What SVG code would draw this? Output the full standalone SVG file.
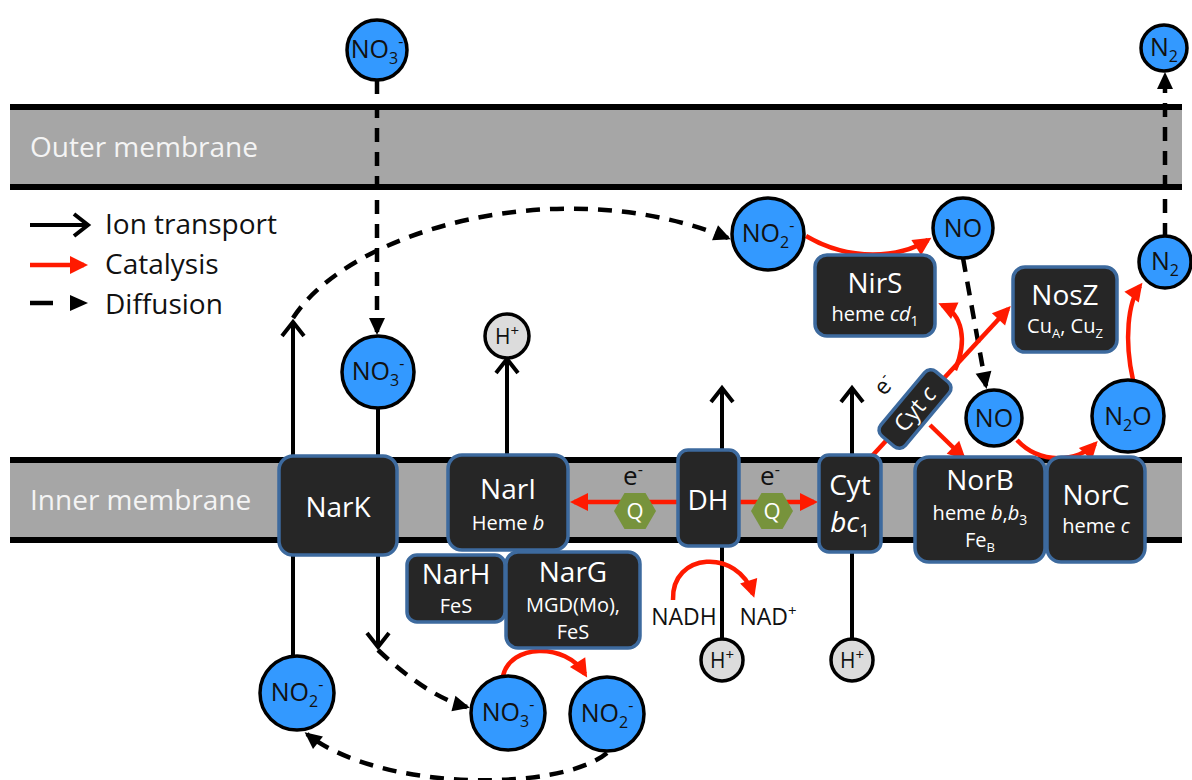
<svg xmlns="http://www.w3.org/2000/svg" width="1192" height="780" viewBox="0 0 1192 780">
  <defs>
    <style>
      .mem { fill: #a6a6a6; }
      .memline { stroke: #000; stroke-width: 6; }
      .memlabel { font-family: "Open Sans", "Liberation Sans", sans-serif; font-size: 28px; fill: #f4f4f4; }
      .legend { font-family: "Open Sans", "Liberation Sans", sans-serif; font-size: 28px; fill: #111; }
      .mol { fill: #3399ff; stroke: #000; stroke-width: 3.5; }
      .proton { fill: #dcdcdc; stroke: #000; stroke-width: 3.5; }
      .moltext { font-family: "Open Sans", "Liberation Sans", sans-serif; font-size: 25px; fill: #111; text-anchor: middle; }
      .htext { font-family: "Open Sans", "Liberation Sans", sans-serif; font-size: 21px; fill: #111; text-anchor: middle; }
      .enz { fill: #262626; stroke: #3d6a9e; stroke-width: 3.5; }
      .ename { font-family: "Open Sans", "Liberation Sans", sans-serif; font-size: 28px; fill: #fff; text-anchor: middle; }
      .esub { font-family: "Open Sans", "Liberation Sans", sans-serif; font-size: 20px; fill: #fff; text-anchor: middle; }
      .plain { font-family: "Open Sans", "Liberation Sans", sans-serif; font-size: 23px; fill: #111; text-anchor: middle; }
      .quinone { fill: #77933c; }
      .qtext { font-family: "Open Sans", "Liberation Sans", sans-serif; font-size: 22px; fill: #fff; text-anchor: middle; }
      .etext { font-family: "Open Sans", "Liberation Sans", sans-serif; font-size: 26px; fill: #111; text-anchor: middle; }
      .cyttext { font-family: "Open Sans", "Liberation Sans", sans-serif; font-size: 23px; fill: #fff; text-anchor: middle; }
      .ion { fill: none; stroke: #000; stroke-width: 4; marker-end: url(#openHead); }
      .cat { fill: none; stroke: #ff1a00; stroke-width: 4.5; marker-end: url(#redHead); }
      .diff { fill: none; stroke: #000; stroke-width: 4.5; stroke-dasharray: 14 10; marker-end: url(#triHead); }
    </style>
    <marker id="openHead" markerUnits="userSpaceOnUse" markerWidth="30" markerHeight="30" refX="0" refY="0" orient="auto" overflow="visible">
      <path d="M-14,-11 L0,0 L-14,11" fill="none" stroke="#000" stroke-width="4"/>
    </marker>
    <marker id="redHead" markerUnits="userSpaceOnUse" markerWidth="30" markerHeight="30" refX="0" refY="0" orient="auto" overflow="visible">
      <path d="M-14,-9 L4,0 L-14,9 Z" fill="#ff1a00"/>
    </marker>
    <marker id="triHead" markerUnits="userSpaceOnUse" markerWidth="30" markerHeight="30" refX="0" refY="0" orient="auto" overflow="visible">
      <path d="M-14,-8 L3,0 L-14,8 Z" fill="#000"/>
    </marker>
  </defs>

  <rect width="1192" height="780" fill="#fff"/>

  <!-- membranes -->
  <g id="outer-membrane">
    <rect class="mem" x="10" y="107" width="1172" height="80"/>
    <line class="memline" x1="10" y1="107" x2="1182" y2="107"/>
    <line class="memline" x1="10" y1="187" x2="1182" y2="187"/>
    <text class="memlabel" x="30" y="157">Outer membrane</text>
  </g>
  <g id="inner-membrane">
    <rect class="mem" x="10" y="460" width="1172" height="80"/>
    <line class="memline" x1="10" y1="460" x2="1182" y2="460"/>
    <line class="memline" x1="10" y1="540" x2="1182" y2="540"/>
    <text class="memlabel" x="30" y="510">Inner membrane</text>
  </g>

  <!-- legend -->
  <g id="legend">
    <line class="ion" x1="30" y1="225" x2="88" y2="225"/>
    <text class="legend" x="105" y="234">Ion transport</text>
    <line class="cat" x1="30" y1="265" x2="84" y2="265"/>
    <text class="legend" x="105" y="274">Catalysis</text>
    <line x1="30" y1="303" x2="53" y2="303" stroke="#000" stroke-width="4.5"/>
    <path d="M70,295 L88,303 L70,311 Z" fill="#000"/>
    <text class="legend" x="105" y="314">Diffusion</text>
  </g>

  <!-- connectors -->
  <g id="connectors">
    <!-- ion transport -->
    <path class="ion" d="M293,655 L293,322"/>
    <path class="ion" d="M378,409 L378,647"/>
    <path class="ion" d="M507,455 L507,359"/>
    <path class="ion" d="M722,638 L722,388"/>
    <path class="ion" d="M852,638 L852,388"/>
    <!-- diffusion -->
    <path class="diff" d="M377,80 L377,332"/>
    <path class="diff" d="M293,318 C350,230 560,170 728,238"/>
    <path class="diff" d="M378,650 C410,680 440,700 467,707"/>
    <path class="diff" d="M607,753 C560,792 380,792 307,734"/>
    <path class="diff" d="M963,258 L986,386"/>
    <path class="diff" d="M1165,237 L1165,75"/>
    <!-- catalysis -->
    <path class="cat" d="M806,236 C850,262 900,258 928,240"/>
    <path class="cat" d="M872,456 L1008,309"/>
    <path class="cat" d="M955,370 C968,340 962,314 942,305"/>
    <path class="cat" d="M930,425 L963,457"/>
    <path class="cat" d="M1017,440 C1040,465 1078,462 1095,444"/>
    <path class="cat" d="M1133,380 C1124,340 1128,302 1140,286"/>
    <path class="cat" d="M678,502 L574,502"/>
    <path class="cat" d="M739,502 L814,502"/>
    <path class="cat" d="M673,600 C671,552 738,548 753,594"/>
    <path class="cat" d="M503,676 C510,644 565,642 585,674"/>
  </g>

  <!-- molecules -->
  <g id="no3-out">
    <circle class="mol" cx="377" cy="50" r="30"/>
    <text class="moltext" x="377" y="58">NO<tspan font-size="16" dy="6">3</tspan><tspan font-size="16" dy="-17">-</tspan></text>
  </g>
  <g id="n2-out">
    <circle class="mol" cx="1164" cy="48" r="23"/>
    <text class="moltext" x="1164" y="56">N<tspan font-size="16" dy="6">2</tspan></text>
  </g>
  <g id="no3-peri">
    <circle class="mol" cx="378" cy="372" r="36"/>
    <text class="moltext" x="378" y="380">NO<tspan font-size="16" dy="6">3</tspan><tspan font-size="16" dy="-17">-</tspan></text>
  </g>
  <g id="no2-peri">
    <circle class="mol" cx="768" cy="234" r="36"/>
    <text class="moltext" x="768" y="242">NO<tspan font-size="16" dy="6">2</tspan><tspan font-size="16" dy="-17">-</tspan></text>
  </g>
  <g id="no-peri">
    <circle class="mol" cx="963" cy="228" r="30"/>
    <text class="moltext" x="963" y="237">NO</text>
  </g>
  <g id="n2-peri">
    <circle class="mol" cx="1165" cy="262" r="26"/>
    <text class="moltext" x="1165" y="270">N<tspan font-size="16" dy="6">2</tspan></text>
  </g>
  <g id="no-lower">
    <circle class="mol" cx="994" cy="418" r="28"/>
    <text class="moltext" x="994" y="427">NO</text>
  </g>
  <g id="n2o">
    <circle class="mol" cx="1128" cy="416" r="36"/>
    <text class="moltext" x="1128" y="425">N<tspan font-size="16" dy="6">2</tspan><tspan dy="-6">O</tspan></text>
  </g>
  <g id="h-nari">
    <circle class="proton" cx="507" cy="336" r="22"/>
    <text class="htext" x="507" y="344">H<tspan font-size="15" dy="-8">+</tspan></text>
  </g>
  <g id="h-dh">
    <circle class="proton" cx="722" cy="660" r="21"/>
    <text class="htext" x="722" y="668">H<tspan font-size="15" dy="-8">+</tspan></text>
  </g>
  <g id="h-bc1">
    <circle class="proton" cx="852" cy="660" r="21"/>
    <text class="htext" x="852" y="668">H<tspan font-size="15" dy="-8">+</tspan></text>
  </g>
  <g id="no2-cyto-left">
    <circle class="mol" cx="297" cy="693" r="37"/>
    <text class="moltext" x="297" y="701">NO<tspan font-size="16" dy="6">2</tspan><tspan font-size="16" dy="-17">-</tspan></text>
  </g>
  <g id="no3-cyto">
    <circle class="mol" cx="508" cy="713" r="37"/>
    <text class="moltext" x="508" y="721">NO<tspan font-size="16" dy="6">3</tspan><tspan font-size="16" dy="-17">-</tspan></text>
  </g>
  <g id="no2-cyto">
    <circle class="mol" cx="607" cy="714" r="37"/>
    <text class="moltext" x="607" y="722">NO<tspan font-size="16" dy="6">2</tspan><tspan font-size="16" dy="-17">-</tspan></text>
  </g>

  <!-- enzymes -->
  <g id="nirs">
    <rect class="enz" x="815" y="255" width="120" height="81" rx="12"/>
    <text class="ename" x="875" y="293">NirS</text>
    <text class="esub" x="875" y="321">heme <tspan font-style="italic">cd</tspan><tspan font-size="14" dy="5">1</tspan></text>
  </g>
  <g id="nosz">
    <rect class="enz" x="1013" y="267" width="104" height="85" rx="12"/>
    <text class="ename" x="1065" y="305">NosZ</text>
    <text class="esub" x="1065" y="333">Cu<tspan font-size="13" dy="5">A</tspan><tspan dy="-5">, Cu</tspan><tspan font-size="13" dy="5">Z</tspan></text>
  </g>
  <g id="cytc">
    <g transform="translate(915,409) rotate(-50)">
      <rect class="enz" x="-42" y="-16" width="84" height="32" rx="8"/>
      <text class="cyttext" x="0" y="8">Cyt <tspan font-style="italic">c</tspan></text>
    </g>
    <text class="etext" x="0" y="0" style="font-size:23px" transform="translate(890,390) rotate(-50)">e<tspan font-size="15" dy="-9">-</tspan></text>
  </g>
  <g id="nark">
    <rect class="enz" x="279" y="456" width="118" height="99" rx="14"/>
    <text class="ename" x="338" y="517">NarK</text>
  </g>
  <g id="nari">
    <rect class="enz" x="448" y="455" width="120" height="95" rx="14"/>
    <text class="ename" x="508" y="499">NarI</text>
    <text class="esub" x="508" y="530">Heme <tspan font-style="italic">b</tspan></text>
  </g>
  <g id="narh">
    <rect class="enz" x="407" y="555" width="98" height="67" rx="10"/>
    <text class="ename" x="456" y="584">NarH</text>
    <text class="esub" x="456" y="613">FeS</text>
  </g>
  <g id="narg">
    <rect class="enz" x="506" y="552" width="134" height="96" rx="12"/>
    <text class="ename" x="573" y="582">NarG</text>
    <text class="esub" x="573" y="612">MGD(Mo),</text>
    <text class="esub" x="573" y="639">FeS</text>
  </g>
  <g id="dh">
    <rect class="enz" x="678" y="450" width="61" height="96" rx="10"/>
    <text class="ename" x="708" y="510">DH</text>
  </g>
  <g id="cytbc1">
    <rect class="enz" x="819" y="455" width="62" height="97" rx="10"/>
    <text class="ename" x="850" y="495">Cyt</text>
    <text class="ename" x="850" y="532"><tspan font-style="italic">bc</tspan><tspan font-size="19" dy="5">1</tspan></text>
  </g>
  <g id="norb">
    <rect class="enz" x="915" y="457" width="130" height="105" rx="14"/>
    <text class="ename" x="980" y="490">NorB</text>
    <text class="esub" x="980" y="520">heme <tspan font-style="italic">b</tspan>,<tspan font-style="italic">b</tspan><tspan font-size="14" dy="5">3</tspan></text>
    <text class="esub" x="980" y="547">Fe<tspan font-size="13" dy="5">B</tspan></text>
  </g>
  <g id="norc">
    <rect class="enz" x="1047" y="457" width="98" height="105" rx="14"/>
    <text class="ename" x="1096" y="505">NorC</text>
    <text class="esub" x="1096" y="533">heme <tspan font-style="italic">c</tspan></text>
  </g>

  <!-- quinones -->
  <g id="q-left">
    <polygon class="quinone" points="614,511 624.5,493 645.5,493 656,511 645.5,529 624.5,529"/>
    <text class="qtext" x="635" y="519">Q</text>
    <text class="etext" x="633" y="485">e<tspan font-size="16" dy="-10">-</tspan></text>
  </g>
  <g id="q-right">
    <polygon class="quinone" points="751,511 761.5,493 782.5,493 793,511 782.5,529 761.5,529"/>
    <text class="qtext" x="772" y="519">Q</text>
    <text class="etext" x="770" y="485">e<tspan font-size="16" dy="-10">-</tspan></text>
  </g>

  <!-- cofactor labels -->
  <g id="nadh">
    <text class="plain" x="684" y="625">NADH</text>
  </g>
  <g id="nad">
    <text class="plain" x="768" y="625">NAD<tspan font-size="15" dy="-9">+</tspan></text>
  </g>
</svg>
